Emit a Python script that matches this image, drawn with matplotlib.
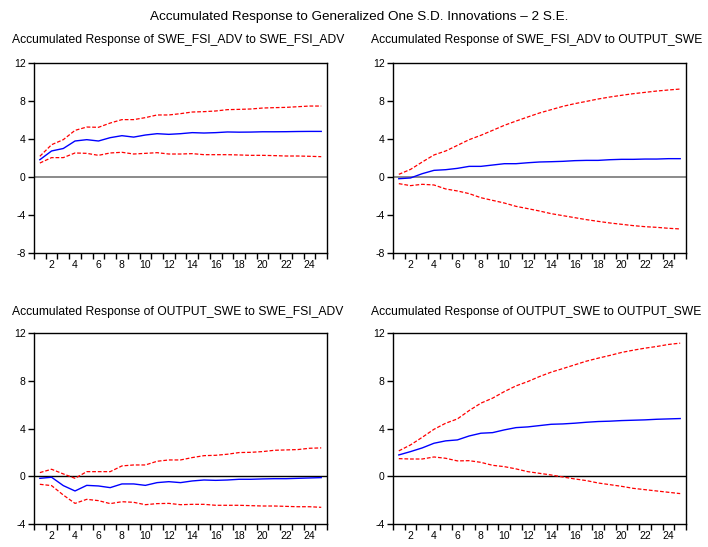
import numpy as np
import matplotlib.pyplot as plt

plt.rcParams['font.family'] = ['Liberation Sans', 'DejaVu Sans']
plt.rcParams['axes.unicode_minus'] = False

# DATA ###############################################################
periods = np.arange(1, 26)

titles = ["Accumulated Response of SWE_FSI_ADV to SWE_FSI_ADV",
          "Accumulated Response of SWE_FSI_ADV to OUTPUT_SWE",
          "Accumulated Response of OUTPUT_SWE to SWE_FSI_ADV",
          "Accumulated Response of OUTPUT_SWE to OUTPUT_SWE"]

# SWE_FSI_ADV to SWE_FSI_ADV
fsi_fsi = [1.82, 2.74, 3.0, 3.79, 3.93, 3.79, 4.14, 4.35, 4.2, 4.42, 4.56, 4.49, 4.56,
           4.67, 4.63, 4.67, 4.74, 4.72, 4.73, 4.76, 4.76, 4.77, 4.79, 4.8, 4.8]
fsi_fsi_up = [2.18, 3.4, 3.93, 4.91, 5.26, 5.23, 5.68, 6.04, 6.04, 6.25, 6.53, 6.53, 6.67,
              6.84, 6.88, 6.95, 7.09, 7.12, 7.16, 7.26, 7.3, 7.33, 7.4, 7.47, 7.47]
fsi_fsi_lo = [1.47, 2.04, 2.04, 2.53, 2.49, 2.28, 2.53, 2.6, 2.42, 2.49, 2.56, 2.42, 2.42,
              2.46, 2.35, 2.35, 2.35, 2.32, 2.28, 2.28, 2.25, 2.21, 2.21, 2.18, 2.14]

# SWE_FSI_ADV to OUTPUT_SWE
fsi_out = [-0.18, -0.1, 0.35, 0.7, 0.77, 0.91, 1.12, 1.12, 1.26, 1.4, 1.4, 1.5, 1.58,
           1.61, 1.65, 1.72, 1.75, 1.75, 1.82, 1.86, 1.86, 1.89, 1.89, 1.93, 1.93]
fsi_out_up = [0.28, 0.8, 1.58, 2.32, 2.74, 3.33, 3.93, 4.39, 4.91, 5.44, 5.89, 6.32, 6.74,
              7.09, 7.44, 7.72, 7.96, 8.21, 8.42, 8.6, 8.77, 8.91, 9.05, 9.16, 9.26]
fsi_out_lo = [-0.7, -0.91, -0.77, -0.84, -1.26, -1.47, -1.75, -2.18, -2.46, -2.74, -3.09,
              -3.33, -3.58, -3.86, -4.07, -4.28, -4.49, -4.67, -4.84, -4.98, -5.12, -5.23,
              -5.3, -5.4, -5.47]

# OUTPUT_SWE to SWE_FSI_ADV
out_fsi = [-0.17, -0.08, -0.78, -1.23, -0.76, -0.81, -0.95, -0.64, -0.64, -0.76, -0.53,
           -0.45, -0.53, -0.39, -0.31, -0.34, -0.31, -0.25, -0.25, -0.22, -0.2, -0.2,
           -0.17, -0.14, -0.11]
out_fsi_up = [0.31, 0.59, 0.2, -0.17, 0.39, 0.39, 0.39, 0.87, 0.95, 0.95, 1.26, 1.37, 1.37,
              1.57, 1.73, 1.76, 1.85, 1.99, 2.01, 2.07, 2.18, 2.21, 2.24, 2.35, 2.38]
out_fsi_lo = [-0.67, -0.78, -1.57, -2.27, -1.93, -2.04, -2.29, -2.13, -2.18, -2.38, -2.29,
              -2.27, -2.38, -2.35, -2.35, -2.43, -2.43, -2.43, -2.46, -2.49, -2.49, -2.52,
              -2.55, -2.55, -2.6]

# OUTPUT_SWE to OUTPUT_SWE
out_out = [1.79, 2.07, 2.38, 2.77, 2.97, 3.05, 3.38, 3.61, 3.66, 3.89, 4.08, 4.14, 4.25,
           4.36, 4.39, 4.45, 4.53, 4.59, 4.62, 4.67, 4.7, 4.73, 4.78, 4.81, 4.84]
out_out_up = [2.13, 2.63, 3.27, 3.94, 4.45, 4.81, 5.51, 6.13, 6.55, 7.1, 7.58, 7.94, 8.36,
              8.73, 9.03, 9.34, 9.65, 9.9, 10.13, 10.38, 10.57, 10.74, 10.88, 11.05, 11.16]
out_out_lo = [1.48, 1.45, 1.45, 1.62, 1.51, 1.29, 1.31, 1.17, 0.92, 0.81, 0.62, 0.39, 0.25,
              0.11, -0.06, -0.22, -0.36, -0.56, -0.7, -0.84, -1.01, -1.12, -1.23, -1.34, -1.45]

responses = [fsi_fsi, fsi_out, out_fsi, out_out]
uppers = [fsi_fsi_up, fsi_out_up, out_fsi_up, out_out_up]
lowers = [fsi_fsi_lo, fsi_out_lo, out_fsi_lo, out_out_lo]
y_limits = [(-8, 12), (-8, 12), (-4, 12), (-4, 12)]
zero_colors = ["#777777", "#777777", "black", "black"]

# PLOT ###############################################################
fig = plt.figure(figsize=(7.08, 5.47), dpi=100)
fig.text(0.507, 0.969, "Accumulated Response to Generalized One S.D. Innovations \u2013 2 S.E.",
         ha='center', va='center', fontsize=9.7)

positions = [(0.048, 0.5375, 0.414, 0.3473), (0.555, 0.5375, 0.414, 0.3473),
             (0.048, 0.042, 0.414, 0.349), (0.555, 0.042, 0.414, 0.349)]
title_x = [12 / 708, 371 / 708, 12 / 708, 371 / 708]
title_y = [1 - 40 / 547, 1 - 40 / 547, 1 - 312 / 547, 1 - 312 / 547]

for i in range(4):
    ax = fig.add_axes(positions[i])
    ax.axhline(0, color=zero_colors[i], lw=1.2 if i < 2 else 1.0, zorder=1)
    ax.plot(periods, uppers[i], color='red', lw=0.9, ls=(0, (3, 1.5)), zorder=2)
    ax.plot(periods, lowers[i], color='red', lw=0.9, ls=(0, (3, 1.5)), zorder=2)
    ax.plot(periods, responses[i], color='blue', lw=1.0, zorder=3)

    ax.set_xlim(0.5, 25.5)
    ax.set_ylim(*y_limits[i])
    ax.set_yticks(np.arange(y_limits[i][0], y_limits[i][1] + 1, 4))
    ax.set_xticks(np.arange(2, 25, 2))
    ax.set_xticks(np.arange(0.5, 25.6, 1), minor=True)
    ax.tick_params(axis='x', which='major', length=0, labelsize=7.5, pad=5)
    ax.tick_params(axis='x', which='minor', length=4, width=1, direction='out')
    ax.tick_params(axis='y', length=4, width=1, direction='out', labelsize=7.5, pad=2)
    for s in ax.spines.values():
        s.set_linewidth(1.0)

    fig.text(title_x[i], title_y[i], titles[i], ha='left', va='center', fontsize=8.75)

fig.savefig("out.png", dpi=100)
